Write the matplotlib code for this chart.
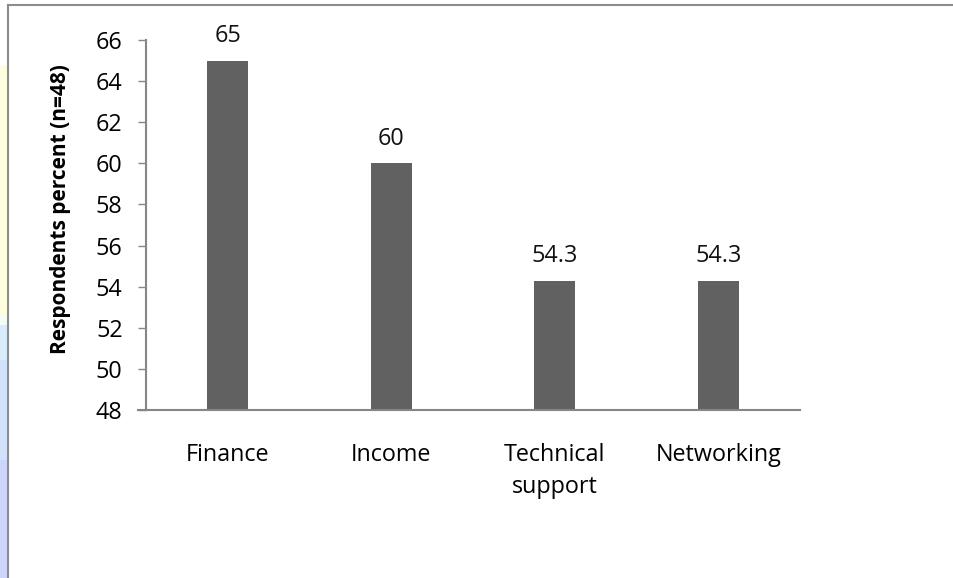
import matplotlib.pyplot as plt
from matplotlib.patches import Rectangle
from matplotlib.lines import Line2D

categories = ['Finance', 'Income', 'Technical\nsupport', 'Networking']
values = [65, 60, 54.3, 54.3]
value_labels = ['65', '60', '54.3', '54.3']
yticks = [48, 50, 52, 54, 56, 58, 60, 62, 64, 66]

plt.rcParams['font.family'] = ['Open Sans', 'DejaVu Sans']

W, H = 954, 578
fig = plt.figure(figsize=(W / 100, H / 100), dpi=100)

def fx(px):
    return px / W

def fy(py):
    return 1 - py / H

# coloured strip down the left edge
strip = [(65, 315, '#fffde0'), (315, 325, '#f4fbf8'), (325, 360, '#d8ecfb'),
         (360, 460, '#d2e2fb'), (460, 578, '#cdd6fa')]
for y0, y1, c in strip:
    fig.patches.append(Rectangle((0, fy(y1)), fx(7), fy(y0) - fy(y1),
                                 transform=fig.transFigure, color=c, lw=0))

# outer frame
fig.lines.append(Line2D([fx(8), 1], [fy(5), fy(5)], transform=fig.transFigure,
                        color='#8c8c8c', lw=1.5))
fig.lines.append(Line2D([fx(8), fx(8)], [fy(5), 0], transform=fig.transFigure,
                        color='#8c8c8c', lw=1.5))

ax = fig.add_axes([fx(146), fy(410), fx(800) - fx(146), fy(40) - fy(410)])
x = range(len(categories))
ax.bar(x, [v - 48 for v in values], bottom=48, width=0.25, color='#616161')
for xi, v, s in zip(x, values, value_labels):
    ax.annotate(s, (xi, v), xytext=(0, 9), textcoords='offset points',
                ha='center', va='bottom', fontsize=16.8, color='#111111')

ax.set_xlim(-0.5, 3.5)
ax.set_ylim(48, 66)
ax.set_yticks(yticks)
ax.set_xticks(list(x))
ax.set_xticklabels(categories, fontsize=16.8, linespacing=1.45, va='top')
ax.tick_params(axis='x', length=0, pad=23.5)
ax.tick_params(axis='y', length=5.8, width=1, color='#868686', labelsize=16.8, pad=11)
for s in ['top', 'right']:
    ax.spines[s].set_visible(False)
for s in ['left', 'bottom']:
    ax.spines[s].set_color('#868686')
    ax.spines[s].set_linewidth(1.5)
ax.spines['bottom'].set_bounds(-0.5 - 8 / 163.5, 3.5)

ax.set_ylabel('Respondents percent (n=48)', fontsize=15, fontweight='bold')
ax.yaxis.set_label_coords((71 - 146) / 654, (410 - 209) / 370)

fig.savefig('out.png', dpi=100)
